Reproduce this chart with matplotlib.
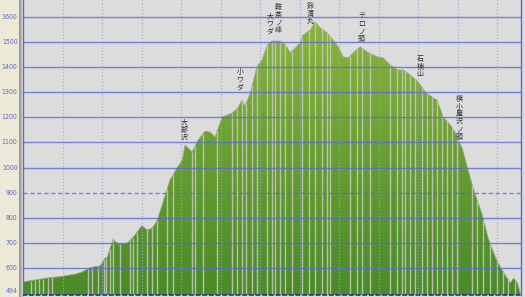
import numpy as np
import matplotlib
matplotlib.use("Agg")
import matplotlib.pyplot as plt
from matplotlib.colors import LinearSegmentedColormap

plt.rcParams['font.family'] = ['Noto Sans CJK JP', 'DejaVu Sans']

# distance (km) and elevation (m)
distance = [0.00, 0.43, 0.68, 0.94, 1.32, 1.49, 1.70, 1.95, 2.08, 2.13, 2.28, 2.41,
            2.63, 2.78, 3.01, 3.14, 3.27, 3.39, 3.54, 3.72, 3.87, 4.03, 4.10, 4.28,
            4.43, 4.61, 4.73, 4.86, 5.04, 5.29, 5.44, 5.54, 5.62, 5.75, 5.92, 6.05,
            6.18, 6.30, 6.51, 6.63, 6.76, 6.89, 7.01, 7.09, 7.27, 7.39, 7.52, 7.70,
            7.85, 7.97, 8.10, 8.23, 8.35, 8.53, 8.71, 8.96, 9.11, 9.29, 9.47, 9.62,
            9.80, 10.00, 10.18, 10.35, 10.48, 10.63, 10.81, 10.94, 11.01, 11.11,
            11.24, 11.39, 11.62, 11.77, 11.95, 12.08, 12.20, 12.33, 12.41, 12.51, 12.58]
elevation = [546, 557, 563, 567, 577, 585, 603, 610, 641, 643, 716, 697,
             700, 722, 770, 752, 760, 788, 862, 951, 992, 1030, 1090, 1062,
             1110, 1145, 1141, 1122, 1201, 1217, 1237, 1268, 1245, 1296, 1400, 1428,
             1487, 1503, 1503, 1490, 1457, 1475, 1495, 1527, 1547, 1579, 1555, 1535,
             1507, 1480, 1440, 1436, 1455, 1480, 1459, 1440, 1436, 1408, 1388, 1388,
             1368, 1340, 1300, 1280, 1268, 1201, 1170, 1138, 1110, 1078,
             1003, 919, 812, 720, 645, 605, 573, 542, 561, 542, 502]

# waypoint marker positions (km)
markers = [0.20, 0.30, 0.41, 0.51, 0.63, 0.73, 1.65, 1.75, 1.90, 2.05, 2.10, 2.20,
           2.28, 2.46, 2.71, 2.78, 2.89, 3.14, 3.27, 3.39, 3.65, 3.80, 4.28, 4.35,
           4.56, 4.91, 5.29, 5.42, 5.54, 5.65, 5.80, 5.92, 6.18, 6.30, 6.38, 6.51,
           6.63, 6.81, 7.06, 7.24, 7.39, 7.57, 7.70, 7.77, 8.28, 8.46, 8.58, 8.78,
           9.29, 9.47, 9.59, 9.67, 9.80, 9.92, 10.10, 10.23, 10.35, 10.48, 10.61,
           10.73, 10.86, 10.99, 11.37, 11.49, 11.65, 11.82, 12.00, 12.15, 12.28, 12.46]

# named points: label, distance, top-of-text elevation
place_names = ["大部沢", "小ワダ", "大ワダ", "鞍茶ノ峰", "鈴渭丸", "テ口ノ頭", "石楠山", "槙小屋沢ノ頭"]
place_x = [4.08, 5.49, 6.25, 6.46, 7.27, 8.56, 10.05, 11.04]
place_y = [1197, 1396, 1618, 1654, 1658, 1618, 1448, 1289]

ytick_values = [494, 600, 700, 800, 900, 1000, 1100, 1200, 1300, 1400, 1500, 1600]
ytick_labels = ["494", "600", "700", "800", "900", "1000", "1100", "1200", "1300", "1400", "1500", "1600"]

W, H = 525, 297
fig = plt.figure(figsize=(W / 100, H / 100), dpi=100)
fig.patch.set_facecolor('#dcdcdc')

# left beige panel and bevel
fig.patches.append(plt.Rectangle((0, 0), 19 / W, 1, transform=fig.transFigure,
                                 facecolor='#ece9d8', edgecolor='none', zorder=0))
fig.patches.append(plt.Rectangle((19 / W, 0), 2 / W, 1, transform=fig.transFigure,
                                 facecolor='#9c9c98', edgecolor='none', zorder=0))
fig.patches.append(plt.Rectangle((21 / W, 0), 2 / W, 1, transform=fig.transFigure,
                                 facecolor='#c4c4c0', edgecolor='none', zorder=0))

ax = fig.add_axes([23 / W, 2 / H, 498 / W, 295 / H])
ax.set_facecolor('#dcdcdc')
ymin, ymax = 494, 1666
xmin, xmax = 0, 12.6
ax.set_xlim(xmin, xmax)
ax.set_ylim(ymin, ymax)

# gradient fill
cmap = LinearSegmentedColormap.from_list('g', ['#4a8a28', '#6aa032', '#90b83e'])
grad = np.linspace(0, 1, 256).reshape(-1, 1)
im = ax.imshow(grad, extent=[xmin, xmax, ymin, ymax], origin='lower', aspect='auto',
               cmap=cmap, zorder=1)
poly = ax.fill_between(distance, elevation, ymin, facecolor='none', edgecolor='none')
path = poly.get_paths()[0]
im.set_clip_path(path, transform=ax.transData)
ax.plot(distance, elevation, color='#9aaa80', lw=0.6, zorder=2)

# marker lines
mk_top = np.interp(markers, distance, elevation)
ax.vlines(markers, ymin, mk_top, colors='#c8ccc0', lw=1.0, alpha=0.85, zorder=2)

# grid
for v in ytick_values[1:]:
    ls = (0, (3, 2)) if v == 900 else '-'
    ax.axhline(v, color='#5a6ad8', lw=1.0, ls=ls, alpha=0.8, zorder=3)
for v in range(1, 13):
    ax.axvline(v, color='#9aa4e0', lw=0.9, ls=(0, (1, 1.5)), alpha=0.8, zorder=3)

for s in ['left', 'right', 'top']:
    ax.spines[s].set_color('#5a6ad8')
    ax.spines[s].set_linewidth(1.0)
ax.spines['top'].set_visible(False)
ax.spines['bottom'].set_color('#2030a0')
ax.spines['bottom'].set_linestyle((0, (2, 2)))
ax.spines['bottom'].set_linewidth(1.2)
ax.set_xticks([])
ax.set_yticks([])

# y labels in the left panel
for v, lab in zip(ytick_values, ytick_labels):
    yy = ax.transData.transform((0, v))[1] / H
    yy = max(yy, 6 / H)
    fig.text(17.5 / W, yy, lab, ha='right', va='center', fontsize=5,
             color='#5a6ad0', family='DejaVu Sans', stretch='condensed')

# place names (vertical writing)
for name, px, py in zip(place_names, place_x, place_y):
    ax.text(px, py, "\n".join(name), ha='center', va='top', fontsize=5,
            linespacing=0.95, color='#303030', zorder=4)

fig.savefig('out.png', dpi=100, facecolor=fig.get_facecolor())
